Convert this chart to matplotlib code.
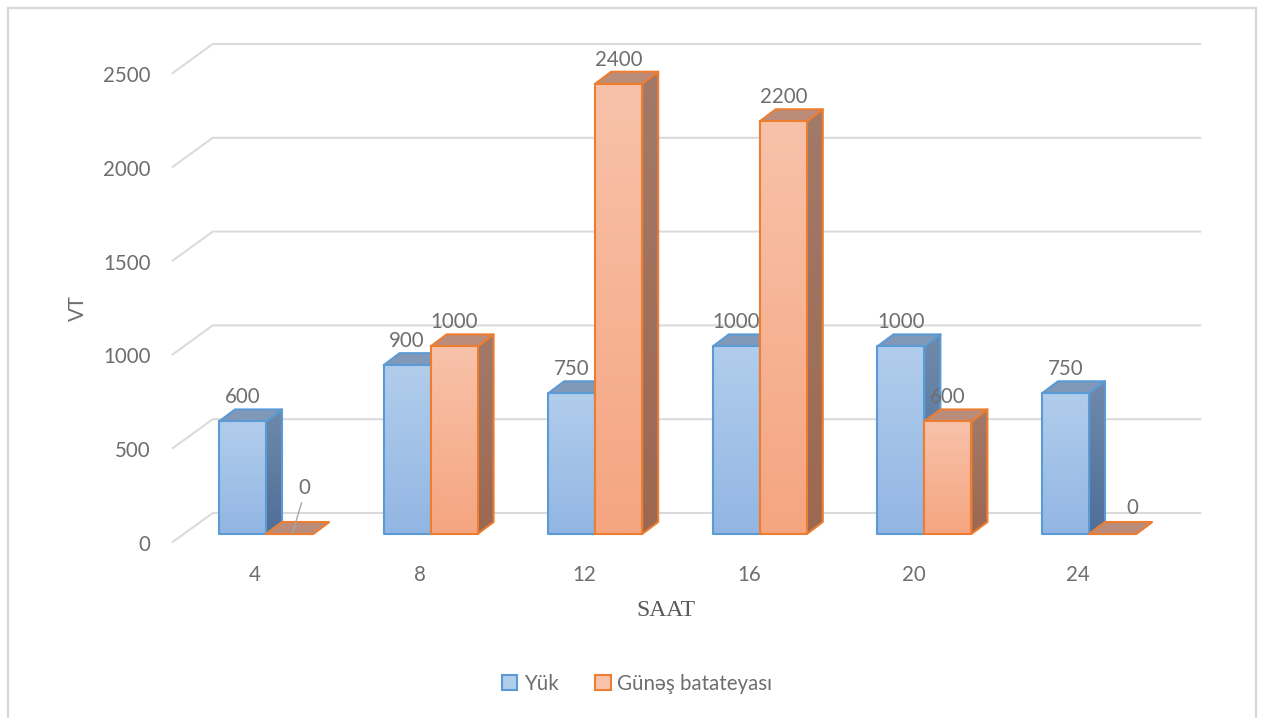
import numpy as np
import matplotlib.pyplot as plt
from matplotlib.patches import Polygon, Rectangle, Patch
from matplotlib.colors import to_rgb

plt.rcParams['font.family'] = ['Lato', 'DejaVu Sans']

# Data
hours = ['4', '8', '12', '16', '20', '24']
load = [600, 900, 750, 1000, 1000, 750]        # Yük
solar = [0, 1000, 2400, 2200, 600, 0]          # Günəş batateyası
yticks = [0, 500, 1000, 1500, 2000, 2500]
series_names = ['Yük', 'Günəş batateyası']

# Figure geometry in pixels
W, H = 1261, 718
px_cat = 164.6      # pixels per category step
px_val = 0.1876     # pixels per VT unit
x0_px, y0_px = 266, 534   # category 0 / value 0 on the bar plane (y from top)

xlim = (-0.7, 5.8)
ylim = (-250, 2700)

fig = plt.figure(figsize=(W / 100, H / 100), dpi=100)
ax = fig.add_axes([(x0_px + xlim[0] * px_cat) / W,
                   (H - y0_px + ylim[0] * px_val) / H,
                   (xlim[1] - xlim[0]) * px_cat / W,
                   (ylim[1] - ylim[0]) * px_val / H])
ax.set_xlim(xlim)
ax.set_ylim(ylim)
ax.axis('off')

# 3D offsets, data units
dep_x, dep_y = 16 / px_cat, 12 / px_val       # bar depth
fr_x, fr_y = -11 / px_cat, -8 / px_val        # front edge of floor
bk_x, bk_y = 29 / px_cat, 21 / px_val         # back wall

text_col = '#6e6e6e'
grid_col = '#d9d9d9'

# grid: diagonal on the side wall + line on the back wall
for v in yticks:
    ax.plot([-0.5 + fr_x, -0.5 + bk_x, 5.5 + bk_x],
            [v + fr_y, v + bk_y, v + bk_y], color=grid_col, lw=1.4, zorder=1)
    ax.text(-0.5 + fr_x - 22 / px_cat, v + fr_y - 3 / px_val, f'{v}',
            ha='right', va='center', fontsize=14.8, color=text_col)

for i, h in enumerate(hours):
    ax.text(i + fr_x, fr_y - 33 / px_val, h, ha='center', va='center',
            fontsize=14.8, color=text_col)


def shade(pts, c_top, c_bot, edge, z):
    poly = Polygon(pts, closed=True, facecolor='none', edgecolor=edge,
                   lw=1.5, zorder=z + 0.05, joinstyle='round')
    ax.add_patch(poly)
    xs = [p[0] for p in pts]
    ys = [p[1] for p in pts]
    if max(ys) - min(ys) <= 0:
        return
    t = np.linspace(0, 1, 64)[:, None]
    grad = (1 - t) * np.array(to_rgb(c_top)) + t * np.array(to_rgb(c_bot))
    img = ax.imshow(grad[:, None, :], extent=(min(xs), max(xs), min(ys), max(ys)),
                    origin='upper', aspect='auto', interpolation='bilinear', zorder=z)
    img.set_clip_path(poly)


styles = [
    dict(edge='#5b9bd5', front=('#b1cdec', '#92b6e3'), side=('#6f89aa', '#4f6f98'),
         top=('#8198b8', '#8198b8')),
    dict(edge='#ed7d31', front=('#f8c2aa', '#f5a580'), side=('#a27a69', '#9c6851'),
         top=('#ba8c7a', '#ba8c7a')),
]

bw = 47 / px_cat
# label shifts (pixels) for the zero bars
shift = {(0, 1): (15, 22), (5, 1): (20, 2)}

z = 2
for i in range(len(hours)):
    for s, vals in enumerate([load, solar]):
        v = vals[i]
        st = styles[s]
        x_l = i - bw + s * bw
        x_r = x_l + bw
        side = [(x_r, 0), (x_r + dep_x, dep_y), (x_r + dep_x, v + dep_y), (x_r, v)]
        top = [(x_l, v), (x_r, v), (x_r + dep_x, v + dep_y), (x_l + dep_x, v + dep_y)]
        front = [(x_l, 0), (x_r, 0), (x_r, v), (x_l, v)]
        shade(side, *st['side'], st['edge'], z)
        shade(top, *st['top'], st['edge'], z + 0.2)
        shade(front, *st['front'], st['edge'], z + 0.4)
        z += 1

        cx = (x_l + x_r) / 2
        lx, ly = cx, v + dep_y + 12 / px_val
        sx, sy = shift.get((i, s), (0, 0))
        lx += sx / px_cat
        ly += sy / px_val
        ax.text(lx, ly, f'{v}', ha='center', va='center', fontsize=14.8,
                color=text_col, zorder=50)
        if sy > 10:
            ax.plot([lx - 3 / px_cat, cx + 3 / px_cat],
                    [ly - 15 / px_val, v + 1 / px_val],
                    color='#a6a6a6', lw=1, zorder=49)

# axis titles
fig.text(78 / W, 1 - 308 / H, 'VT', rotation=90, ha='center', va='center',
         fontsize=14.8, color=text_col)
fig.text(666 / W, 1 - 610 / H, 'SAAT', ha='center', va='center',
         fontsize=17, color='#595959', family='Liberation Serif')

# legend
handles = [Patch(facecolor=styles[k]['front'][0], edgecolor=styles[k]['edge'], lw=1.5)
           for k in range(2)]
fig.legend(handles, series_names, loc='center', bbox_to_anchor=(637 / W, 1 - 684 / H),
           ncol=2, frameon=False, fontsize=14.8, labelcolor=text_col,
           handlelength=0.75, handleheight=0.75, handletextpad=0.3, columnspacing=1.8)

# chart area border
fig.patches.append(Rectangle((8 / W, -0.05), 1248 / W, 1.05 - 8 / H, fill=False,
                             edgecolor=grid_col, lw=1.6, transform=fig.transFigure))

fig.savefig('out.png', dpi=100)
